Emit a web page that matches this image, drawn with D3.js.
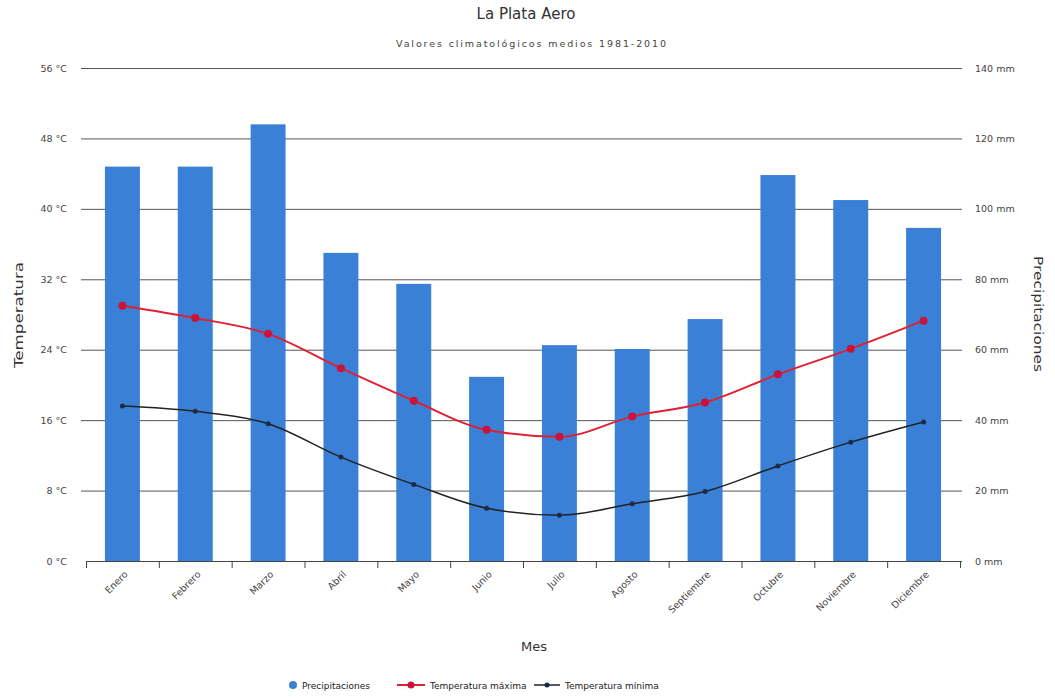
<!DOCTYPE html>
<html><head><meta charset="utf-8">
<script src="https://cdn.jsdelivr.net/npm/d3@7"></script>
<style>body{margin:0;background:#fff}svg{display:block;font-family:"DejaVu Sans",sans-serif}</style>
</head><body><svg id="c" width="1055" height="698"></svg>
<script>
const months = ["Enero","Febrero","Marzo","Abril","Mayo","Junio","Julio","Agosto","Septiembre","Octubre","Noviembre","Diciembre"];
const precip = [112, 112, 124, 87.5, 78.7, 52.3, 61.3, 60.2, 68.7, 109.6, 102.5, 94.6];
const tmax = [29.0, 27.6, 25.8, 21.9, 18.2, 14.9, 14.1, 16.4, 18.0, 21.2, 24.1, 27.3];
const tmin = [17.6, 17.0, 15.6, 11.8, 8.7, 6.0, 5.2, 6.5, 7.9, 10.8, 13.5, 15.8];
const tempTicks = [0, 8, 16, 24, 32, 40, 48, 56];
const precipTicks = [0, 20, 40, 60, 80, 100, 120, 140];

const svg = d3.select("#c");
const L = 86, R = 960, T = 68, B = 561;
const x = d3.scaleBand().domain(months).range([L, R]).paddingInner(0.52).paddingOuter(0.26);
const xb = d3.scaleBand().domain(months).range([L, R]);
const yT = d3.scaleLinear().domain([0, 56]).range([B, T]);
const yP = d3.scaleLinear().domain([0, 140]).range([B, T]);
const txt = "#444";

// title
svg.append("text").attr("x", 526).attr("y", 19).attr("text-anchor", "middle").attr("font-size", 15).attr("fill", "#333").text("La Plata Aero");
svg.append("text").attr("x", 531).attr("y", 47).attr("text-anchor", "middle").attr("font-size", 9.5).attr("fill", txt)
  .attr("textLength", 270).attr("lengthAdjust", "spacing").text("Valores climatológicos medios 1981-2010");

// gridlines
svg.append("g").selectAll("line").data(tempTicks.slice(1)).join("line")
  .attr("x1", L - 5).attr("x2", R + 2).attr("y1", d => yT(d) + 0.5).attr("y2", d => yT(d) + 0.5)
  .attr("stroke", "#555").attr("stroke-width", 1);

// left axis labels
svg.append("g").selectAll("text").data(tempTicks).join("text")
  .attr("x", 67).attr("y", d => yT(d) + 3.5).attr("text-anchor", "end").attr("font-size", 9.5).attr("fill", txt)
  .text(d => d + " °C");
// right axis labels
svg.append("g").selectAll("text").data(precipTicks).join("text")
  .attr("x", 975).attr("y", d => yP(d) + 3.5).attr("text-anchor", "start").attr("font-size", 9.5).attr("fill", txt)
  .text(d => d + " mm");

// bars
svg.append("g").selectAll("rect").data(months).join("rect")
  .attr("x", d => x(d)).attr("width", x.bandwidth())
  .attr("y", (d, i) => yP(precip[i])).attr("height", (d, i) => B - yP(precip[i]))
  .attr("fill", "#3a80d6");

// bottom axis
const axg = svg.append("g");
axg.append("line").attr("x1", L).attr("x2", R + 2).attr("y1", B + 0.5).attr("y2", B + 0.5).attr("stroke", "#444");
const bounds = months.map(m => xb(m)).concat([R]);
axg.selectAll("line.t").data(bounds).join("line").attr("class", "t")
  .attr("x1", d => d + 0.5).attr("x2", d => d + 0.5).attr("y1", B).attr("y2", B + 7).attr("stroke", "#444");

svg.append("g").selectAll("text").data(months).join("text")
  .attr("transform", d => `translate(${x(d) + x.bandwidth() / 2 + 6},${B + 14}) rotate(-45)`)
  .attr("text-anchor", "end").attr("font-size", 9.5).attr("fill", txt).text(d => d);

// lines
const line = d3.line().x((d, i) => x(months[i]) + x.bandwidth() / 2).y(d => yT(d)).curve(d3.curveMonotoneX);
svg.append("path").attr("d", line(tmax)).attr("fill", "none").attr("stroke", "#e02033").attr("stroke-width", 2);
svg.append("path").attr("d", line(tmin)).attr("fill", "none").attr("stroke", "#222").attr("stroke-width", 1.5);
svg.append("g").selectAll("circle").data(tmax).join("circle")
  .attr("cx", (d, i) => x(months[i]) + x.bandwidth() / 2).attr("cy", d => yT(d)).attr("r", 4).attr("fill", "#c8143a");
svg.append("g").selectAll("circle").data(tmin).join("circle")
  .attr("cx", (d, i) => x(months[i]) + x.bandwidth() / 2).attr("cy", d => yT(d)).attr("r", 2.5).attr("fill", "#1c2a4a");

// axis titles
svg.append("text").attr("x", 534).attr("y", 651).attr("text-anchor", "middle").attr("font-size", 13).attr("fill", "#333").text("Mes");
svg.append("text").attr("transform", "translate(23,315) rotate(-90)").attr("text-anchor", "middle").attr("font-size", 13).attr("fill", "#333")
  .attr("textLength", 106).attr("lengthAdjust", "spacingAndGlyphs").text("Temperatura");
svg.append("text").attr("transform", "translate(1034,314) rotate(90)").attr("text-anchor", "middle").attr("font-size", 13).attr("fill", "#333")
  .attr("textLength", 116).attr("lengthAdjust", "spacingAndGlyphs").text("Precipitaciones");

// legend
const lg = svg.append("g").attr("font-size", 9).attr("fill", "#222");
lg.append("circle").attr("cx", 293).attr("cy", 685).attr("r", 4).attr("fill", "#3a80d6");
lg.append("text").attr("x", 302).attr("y", 688.5).text("Precipitaciones");
lg.append("line").attr("x1", 397).attr("x2", 425).attr("y1", 685).attr("y2", 685).attr("stroke", "#e02033").attr("stroke-width", 2);
lg.append("circle").attr("cx", 411).attr("cy", 685).attr("r", 3.5).attr("fill", "#c8143a");
lg.append("text").attr("x", 430).attr("y", 688.5).text("Temperatura máxima");
lg.append("line").attr("x1", 534).attr("x2", 560).attr("y1", 685).attr("y2", 685).attr("stroke", "#222").attr("stroke-width", 1.5);
lg.append("circle").attr("cx", 547).attr("cy", 685).attr("r", 2.5).attr("fill", "#1c2a4a");
lg.append("text").attr("x", 565).attr("y", 688.5).text("Temperatura mínima");
</script></body></html>
